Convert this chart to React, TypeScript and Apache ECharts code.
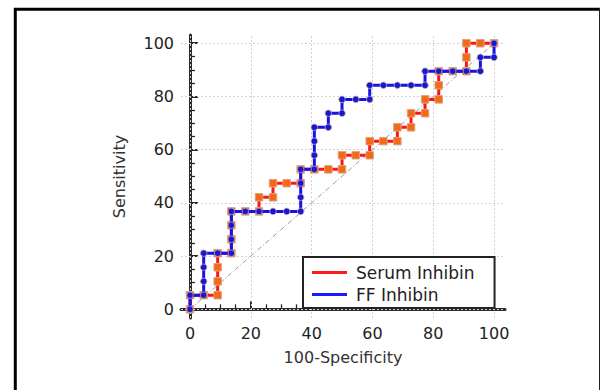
import { useEffect, useRef } from 'react';
import * as echarts from 'echarts';

// Tick values
const majorTicks = [0, 20, 40, 60, 80, 100];
const minorTicks = [5, 10, 15, 25, 30, 35, 45, 50, 55, 65, 70, 75, 85, 90, 95];

// Serum Inhibin ROC points (100-Specificity, Sensitivity)
const serumFpr = [0, 0, 4.5, 9.1, 9.1, 9.1, 9.1, 13.6, 13.6, 13.6, 13.6, 18.2, 22.7, 22.7, 27.3, 27.3, 31.8, 36.4, 36.4, 40.9, 45.5, 50, 50, 54.5, 59.1, 59.1, 63.6, 68.2, 68.2, 72.7, 72.7, 77.3, 77.3, 81.8, 81.8, 81.8, 86.4, 90.9, 90.9, 90.9, 95.5, 100];
const serumSens = [0, 5.3, 5.3, 5.3, 10.5, 15.8, 21.1, 21.1, 26.3, 31.6, 36.8, 36.8, 36.8, 42.1, 42.1, 47.4, 47.4, 47.4, 52.6, 52.6, 52.6, 52.6, 57.9, 57.9, 57.9, 63.2, 63.2, 63.2, 68.4, 68.4, 73.7, 73.7, 78.9, 78.9, 84.2, 89.5, 89.5, 89.5, 94.7, 100, 100, 100];

// FF Inhibin ROC points
const ffFpr = [0, 0, 4.5, 4.5, 4.5, 4.5, 9.1, 13.6, 13.6, 13.6, 13.6, 18.2, 22.7, 27.3, 31.8, 36.4, 36.4, 36.4, 36.4, 40.9, 40.9, 40.9, 40.9, 45.5, 45.5, 50, 50, 54.5, 59.1, 59.1, 63.6, 68.2, 72.7, 77.3, 77.3, 81.8, 86.4, 90.9, 95.5, 95.5, 100, 100];
const ffSens = [0, 5.3, 5.3, 10.5, 15.8, 21.1, 21.1, 21.1, 26.3, 31.6, 36.8, 36.8, 36.8, 36.8, 36.8, 36.8, 42.1, 47.4, 52.6, 52.6, 57.9, 63.2, 68.4, 68.4, 73.7, 73.7, 78.9, 78.9, 78.9, 84.2, 84.2, 84.2, 84.2, 84.2, 89.5, 89.5, 89.5, 89.5, 89.5, 94.7, 94.7, 100];

const diagonal = [[0, 0], [100, 100]];

const FONT = 'DejaVu Sans';

export default function App() {
  const ref = useRef<HTMLDivElement>(null);
  useEffect(() => {
    const chart = echarts.init(ref.current!, null, { renderer: 'svg' });
    const xMin = -2.96, xMax = 103.6, yMin = -3.27, yMax = 103.1;
    const axisColor = '#2a2a2a';
    const gridLines = [
      ...majorTicks.map((v) => ({ xAxis: v })),
      ...majorTicks.map((v) => ({ yAxis: v })),
    ];
    chart.setOption({
      animation: false,
      backgroundColor: '#fff',
      grid: { left: 181, top: 35, right: 95, bottom: 72, containLabel: false, outerBoundsMode: 'none' },
      graphic: [
        { type: 'line', shape: { x1: 15.3, y1: 8, x2: 15.3, y2: 390 }, style: { stroke: '#000', lineWidth: 3 } },
        { type: 'line', shape: { x1: 14, y1: 9.3, x2: 600, y2: 9.3 }, style: { stroke: '#000', lineWidth: 3 } },
        { type: 'line', shape: { x1: 599.5, y1: 8, x2: 599.5, y2: 390 }, style: { stroke: '#222', lineWidth: 1 } },
      ],
      legend: {
        data: [
          { name: 'Serum Inhibin', itemStyle: { color: '#ff1a1a', borderWidth: 0 } },
          { name: 'FF Inhibin', itemStyle: { color: '#1a1aff', borderWidth: 0 } },
        ],
        orient: 'vertical',
        left: 303,
        top: 257,
        z: 20,
        icon: 'rect',
        itemWidth: 35,
        itemHeight: 3,
        itemGap: 5,
        padding: [7, 20, 5, 9],
        borderColor: '#222',
        borderWidth: 2,
        borderRadius: 0,
        backgroundColor: '#fff',
        selectedMode: false,
        textStyle: { fontFamily: FONT, fontSize: 17, color: '#222', padding: [0, 0, 0, 4] },
      },
      xAxis: [
        {
          type: 'value', min: xMin, max: xMax, position: 'bottom',
          name: '100-Specificity', nameLocation: 'middle', nameGap: 31,
          nameTextStyle: { fontFamily: FONT, fontSize: 16, color: '#333' },
          axisLine: { show: true, lineStyle: { color: axisColor, width: 3 } },
          axisTick: { show: true, inside: true, length: 8, customValues: majorTicks, lineStyle: { color: axisColor, width: 2 } },
          axisLabel: { show: true, customValues: majorTicks, margin: 7, fontFamily: FONT, fontSize: 16, color: '#222' },
          splitLine: { show: false },
        },
        {
          type: 'value', min: xMin, max: xMax, position: 'bottom', offset: 0,
          axisLine: { show: false },
          axisTick: { show: true, inside: true, length: 5, customValues: minorTicks, lineStyle: { color: axisColor, width: 1.3 } },
          axisLabel: { show: false },
          splitLine: { show: false },
        },
      ],
      yAxis: [
        {
          type: 'value', min: yMin, max: yMax, position: 'left',
          name: 'Sensitivity', nameLocation: 'middle', nameGap: 54,
          nameTextStyle: { fontFamily: FONT, fontSize: 16, color: '#333' },
          axisLine: { show: true, lineStyle: { color: axisColor, width: 3 } },
          axisTick: { show: true, inside: true, length: 8, customValues: majorTicks, lineStyle: { color: axisColor, width: 2 } },
          axisLabel: { show: true, customValues: majorTicks, margin: 7, fontFamily: FONT, fontSize: 16, color: '#222' },
          splitLine: { show: false },
        },
        {
          type: 'value', min: yMin, max: yMax, position: 'left', offset: 0,
          axisLine: { show: false },
          axisTick: { show: true, inside: true, length: 5, customValues: minorTicks, lineStyle: { color: axisColor, width: 1.3 } },
          axisLabel: { show: false },
          splitLine: { show: false },
        },
      ],
      series: [
        {
          name: 'Reference',
          type: 'line',
          data: diagonal,
          symbol: 'none',
          silent: true,
          z: 1,
          lineStyle: { color: '#9a9a9a', width: 1, type: [5, 2, 1, 2] },
          markLine: {
            silent: true,
            symbol: 'none',
            z: 1,
            label: { show: false },
            lineStyle: { color: '#d2d2d2', width: 1, type: [2, 2] },
            data: gridLines,
          },
        },
        {
          name: 'Serum Inhibin',
          type: 'line',
          data: serumFpr.map((x, i) => [x, serumSens[i]]),
          symbol: 'rect',
          symbolSize: 7.5,
          showAllSymbol: true,
          z: 3,
          itemStyle: { color: '#f46a14', borderColor: '#d8a58a', borderWidth: 1 },
          lineStyle: { color: '#ff1414', width: 3 },
        },
        {
          name: 'FF Inhibin',
          type: 'line',
          data: ffFpr.map((x, i) => [x, ffSens[i]]),
          symbol: 'circle',
          symbolSize: 6.5,
          showAllSymbol: true,
          z: 4,
          itemStyle: { color: '#1818d0', borderColor: '#c8a0a8', borderWidth: 0.8 },
          lineStyle: { color: '#1414e6', width: 3 },
        },
      ],
    });
    return () => chart.dispose();
  }, []);
  return (
    <div
      ref={ref}
      style={{ position: 'absolute', left: 0, top: 0, width: 600, height: 390, background: '#fff' }}
    />
  );
}
